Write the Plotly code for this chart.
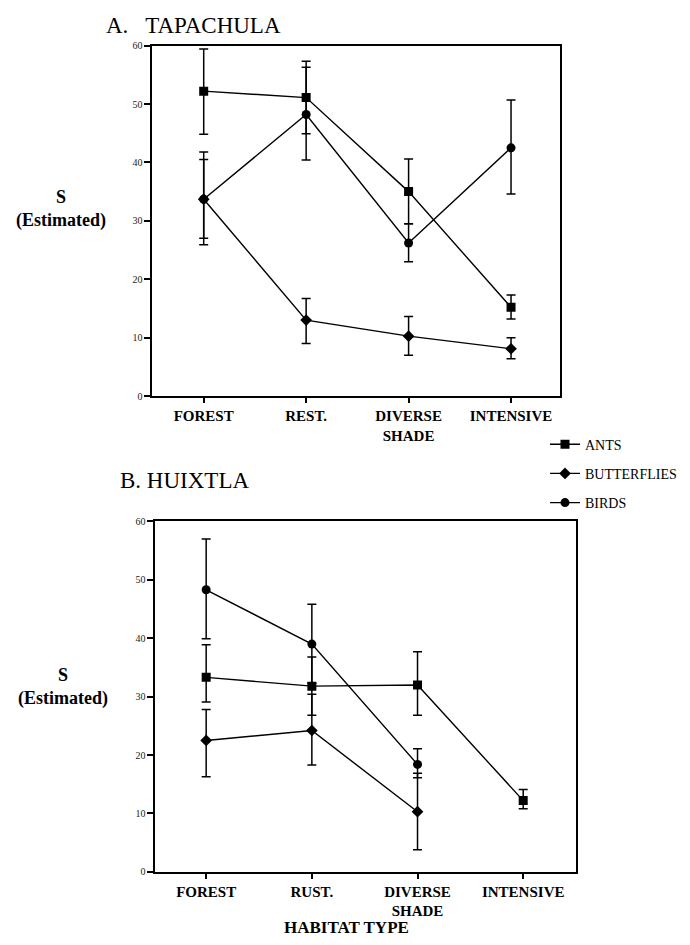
import plotly.graph_objects as go

# ---------------- data ----------------
categories_a = ["FOREST", "REST.", "DIVERSE<br>SHADE", "INTENSIVE"]
categories_b = ["FOREST", "RUST.", "DIVERSE<br>SHADE", "INTENSIVE"]
y_ticks = [0, 10, 20, 30, 40, 50, 60]

# Panel A (Tapachula)
a_ants = [52.2, 51.1, 35.0, 15.2]
a_ants_hi = [59.4, 57.3, 40.6, 17.3]
a_ants_lo = [44.8, 44.9, 29.5, 13.2]

a_butterflies = [33.7, 13.0, 10.25, 8.1]
a_butterflies_hi = [40.5, 16.7, 13.6, 10.0]
a_butterflies_lo = [27.0, 9.0, 7.0, 6.4]

a_birds = [33.7, 48.2, 26.2, 42.5]
a_birds_hi = [41.8, 56.3, 29.5, 50.7]
a_birds_lo = [25.9, 40.4, 23.0, 34.6]

# Panel B (Huixtla)
b_ants = [33.3, 31.8, 32.0, 12.2]
b_ants_hi = [38.9, 36.8, 37.7, 14.1]
b_ants_lo = [29.1, 26.8, 26.8, 10.8]

b_butterflies = [22.5, 24.2, 10.3]
b_butterflies_hi = [27.8, 30.4, 16.9]
b_butterflies_lo = [16.3, 18.3, 3.8]

b_birds = [48.3, 39.0, 18.4]
b_birds_hi = [57.0, 45.8, 21.1]
b_birds_lo = [39.9, 32.3, 16.1]

series_names = ["ANTS", "BUTTERFLIES", "BIRDS"]

# ---------------- figure ----------------
FONT = "Liberation Serif, Times New Roman, serif"
symbols = {"ANTS": "square", "BUTTERFLIES": "diamond", "BIRDS": "circle"}
msize = {"ANTS": 9, "BUTTERFLIES": 9, "BIRDS": 9}

# page body has an 8px default margin: work in screenshot pixels
OFF = 8
W, H = 690 - 2 * OFF, 945 - OFF


def px(x):
    return (x - OFF) / W


def py(y):
    return 1 - (y - OFF) / H


fig = go.Figure()


def add_series(cats, vals, hi, lo, name, xa, ya, show):
    n = len(vals)
    fig.add_trace(go.Scatter(
        x=cats[:n], y=vals, name=name, mode="lines+markers",
        xaxis=xa, yaxis=ya, showlegend=show, legendgroup=name,
        line=dict(color="black", width=1.4),
        marker=dict(symbol=symbols[name], size=msize[name], color="black"),
        error_y=dict(type="data", symmetric=False,
                     array=[h - v for h, v in zip(hi, vals)],
                     arrayminus=[v - l for l, v in zip(lo, vals)],
                     color="black", thickness=1.5, width=4.5),
    ))


add_series(categories_a, a_ants, a_ants_hi, a_ants_lo, "ANTS", "x", "y", True)
add_series(categories_a, a_butterflies, a_butterflies_hi, a_butterflies_lo, "BUTTERFLIES", "x", "y", True)
add_series(categories_a, a_birds, a_birds_hi, a_birds_lo, "BIRDS", "x", "y", True)
add_series(categories_b, b_ants, b_ants_hi, b_ants_lo, "ANTS", "x2", "y2", False)
add_series(categories_b, b_butterflies, b_butterflies_hi, b_butterflies_lo, "BUTTERFLIES", "x2", "y2", False)
add_series(categories_b, b_birds, b_birds_hi, b_birds_lo, "BIRDS", "x2", "y2", False)

xcommon = dict(type="category", showline=True, linecolor="black", linewidth=2, mirror=True,
               ticks="outside", ticklen=5, tickwidth=1.5, tickcolor="black",
               showgrid=False, zeroline=False,
               tickfont=dict(family=FONT, size=15, color="black", weight="bold"))
ycommon = dict(range=[0, 60], tickvals=y_ticks, showline=True, linecolor="black", linewidth=2,
               mirror=True, ticks="outside", ticklen=6, tickwidth=1.5, tickcolor="black",
               showgrid=False, zeroline=False,
               tickfont=dict(family=FONT, size=10, color="#222"))


def ann(text, x, y, size, bold=False, xanchor="center", yanchor="middle"):
    return dict(text=f"<b>{text}</b>" if bold else text, x=px(x), y=py(y),
                xref="paper", yref="paper", xanchor=xanchor, yanchor=yanchor,
                showarrow=False, borderpad=0,
                font=dict(family=FONT, size=size, color="black"))


fig.update_layout(
    width=W, height=H,
    margin=dict(l=0, r=0, t=0, b=0),
    paper_bgcolor="white", plot_bgcolor="white",
    font=dict(family=FONT, color="black"),
    xaxis=dict(xcommon, domain=[px(154), px(566)], range=[-0.5, 3.48],
               anchor="y", categoryorder="array", categoryarray=categories_a),
    yaxis=dict(ycommon, domain=[py(395), py(40)], anchor="x"),
    xaxis2=dict(xcommon, domain=[px(157), px(582)], range=[-0.48, 3.5],
                anchor="y2", categoryorder="array", categoryarray=categories_b),
    yaxis2=dict(ycommon, domain=[py(877), py(522)], anchor="x2"),
    legend=dict(x=px(551), y=py(428), xanchor="left", yanchor="top",
                font=dict(family=FONT, size=14, color="black"),
                tracegroupgap=8, bgcolor="rgba(0,0,0,0)", itemwidth=30),
    annotations=[
        ann("A.\u00a0\u00a0 TAPACHULA", 106, 20, 23, xanchor="left"),
        ann("B. HUIXTLA", 120, 481, 23, xanchor="left"),
        ann("<b>S</b><br><b>(Estimated)</b>", 62, 206, 18),
        ann("<b>S</b><br><b>(Estimated)</b>", 64, 690, 18),
        ann("HABITAT TYPE", 350, 933, 17, bold=True),
    ],
)

fig.write_html("out.html")
